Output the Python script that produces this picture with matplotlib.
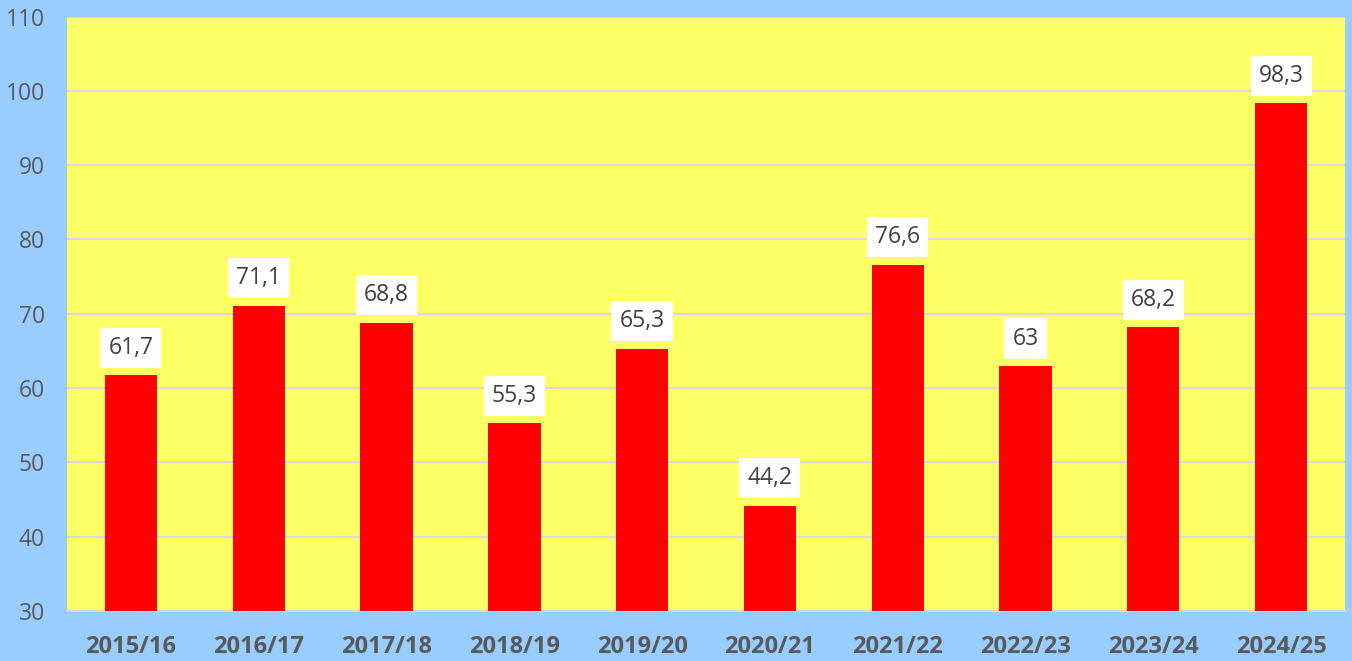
import matplotlib
matplotlib.use("Agg")
import matplotlib.pyplot as plt

seasons = ["2015/16", "2016/17", "2017/18", "2018/19", "2019/20",
           "2020/21", "2021/22", "2022/23", "2023/24", "2024/25"]
values = [61.7, 71.1, 68.8, 55.3, 65.3, 44.2, 76.6, 63.0, 68.2, 98.3]
labels = ["61,7", "71,1", "68,8", "55,3", "65,3", "44,2", "76,6", "63", "68,2", "98,3"]
yticks = [30, 40, 50, 60, 70, 80, 90, 100, 110]

plt.rcParams["font.family"] = ["Open Sans", "DejaVu Sans"]
text_color = "#595959"

fig = plt.figure(figsize=(13.52, 6.61), dpi=100, facecolor="#99CCFF")
ax = fig.add_axes([0.0496, 0.0756, 0.9452, 0.8994])
ax.set_facecolor("#FFFF66")

x = range(len(seasons))
bars = ax.bar(x, values, width=0.41, bottom=0, color="#FF0000", zorder=3)
ax.set_ylim(30, 110)
ax.set_xlim(-0.5, len(seasons) - 0.5)
ax.set_yticks(yticks)
ax.yaxis.grid(True, color="#D9D9D9", lw=1.5, zorder=0)
ax.set_axisbelow(True)

for b, lab in zip(bars, labels):
    ax.annotate(lab, (b.get_x() + b.get_width() / 2, b.get_height()),
                xytext=(0, 11), textcoords="offset points", ha="center", va="bottom",
                fontsize=16.5, color="#404040", zorder=5,
                bbox=dict(boxstyle="square,pad=0.35", fc="white", ec="none"))

ax.set_xticks(list(x))
ax.set_xticklabels(seasons, fontsize=17, fontweight="bold", color=text_color)
ax.tick_params(axis="y", labelsize=16.5, labelcolor=text_color, length=0, pad=16)
ax.tick_params(axis="x", length=0, pad=17)
for s in ["left", "right", "top"]:
    ax.spines[s].set_visible(False)
ax.spines["bottom"].set_color("#D9D9D9")
ax.spines["bottom"].set_linewidth(1.5)

fig.savefig("out.png", dpi=100, facecolor=fig.get_facecolor())
